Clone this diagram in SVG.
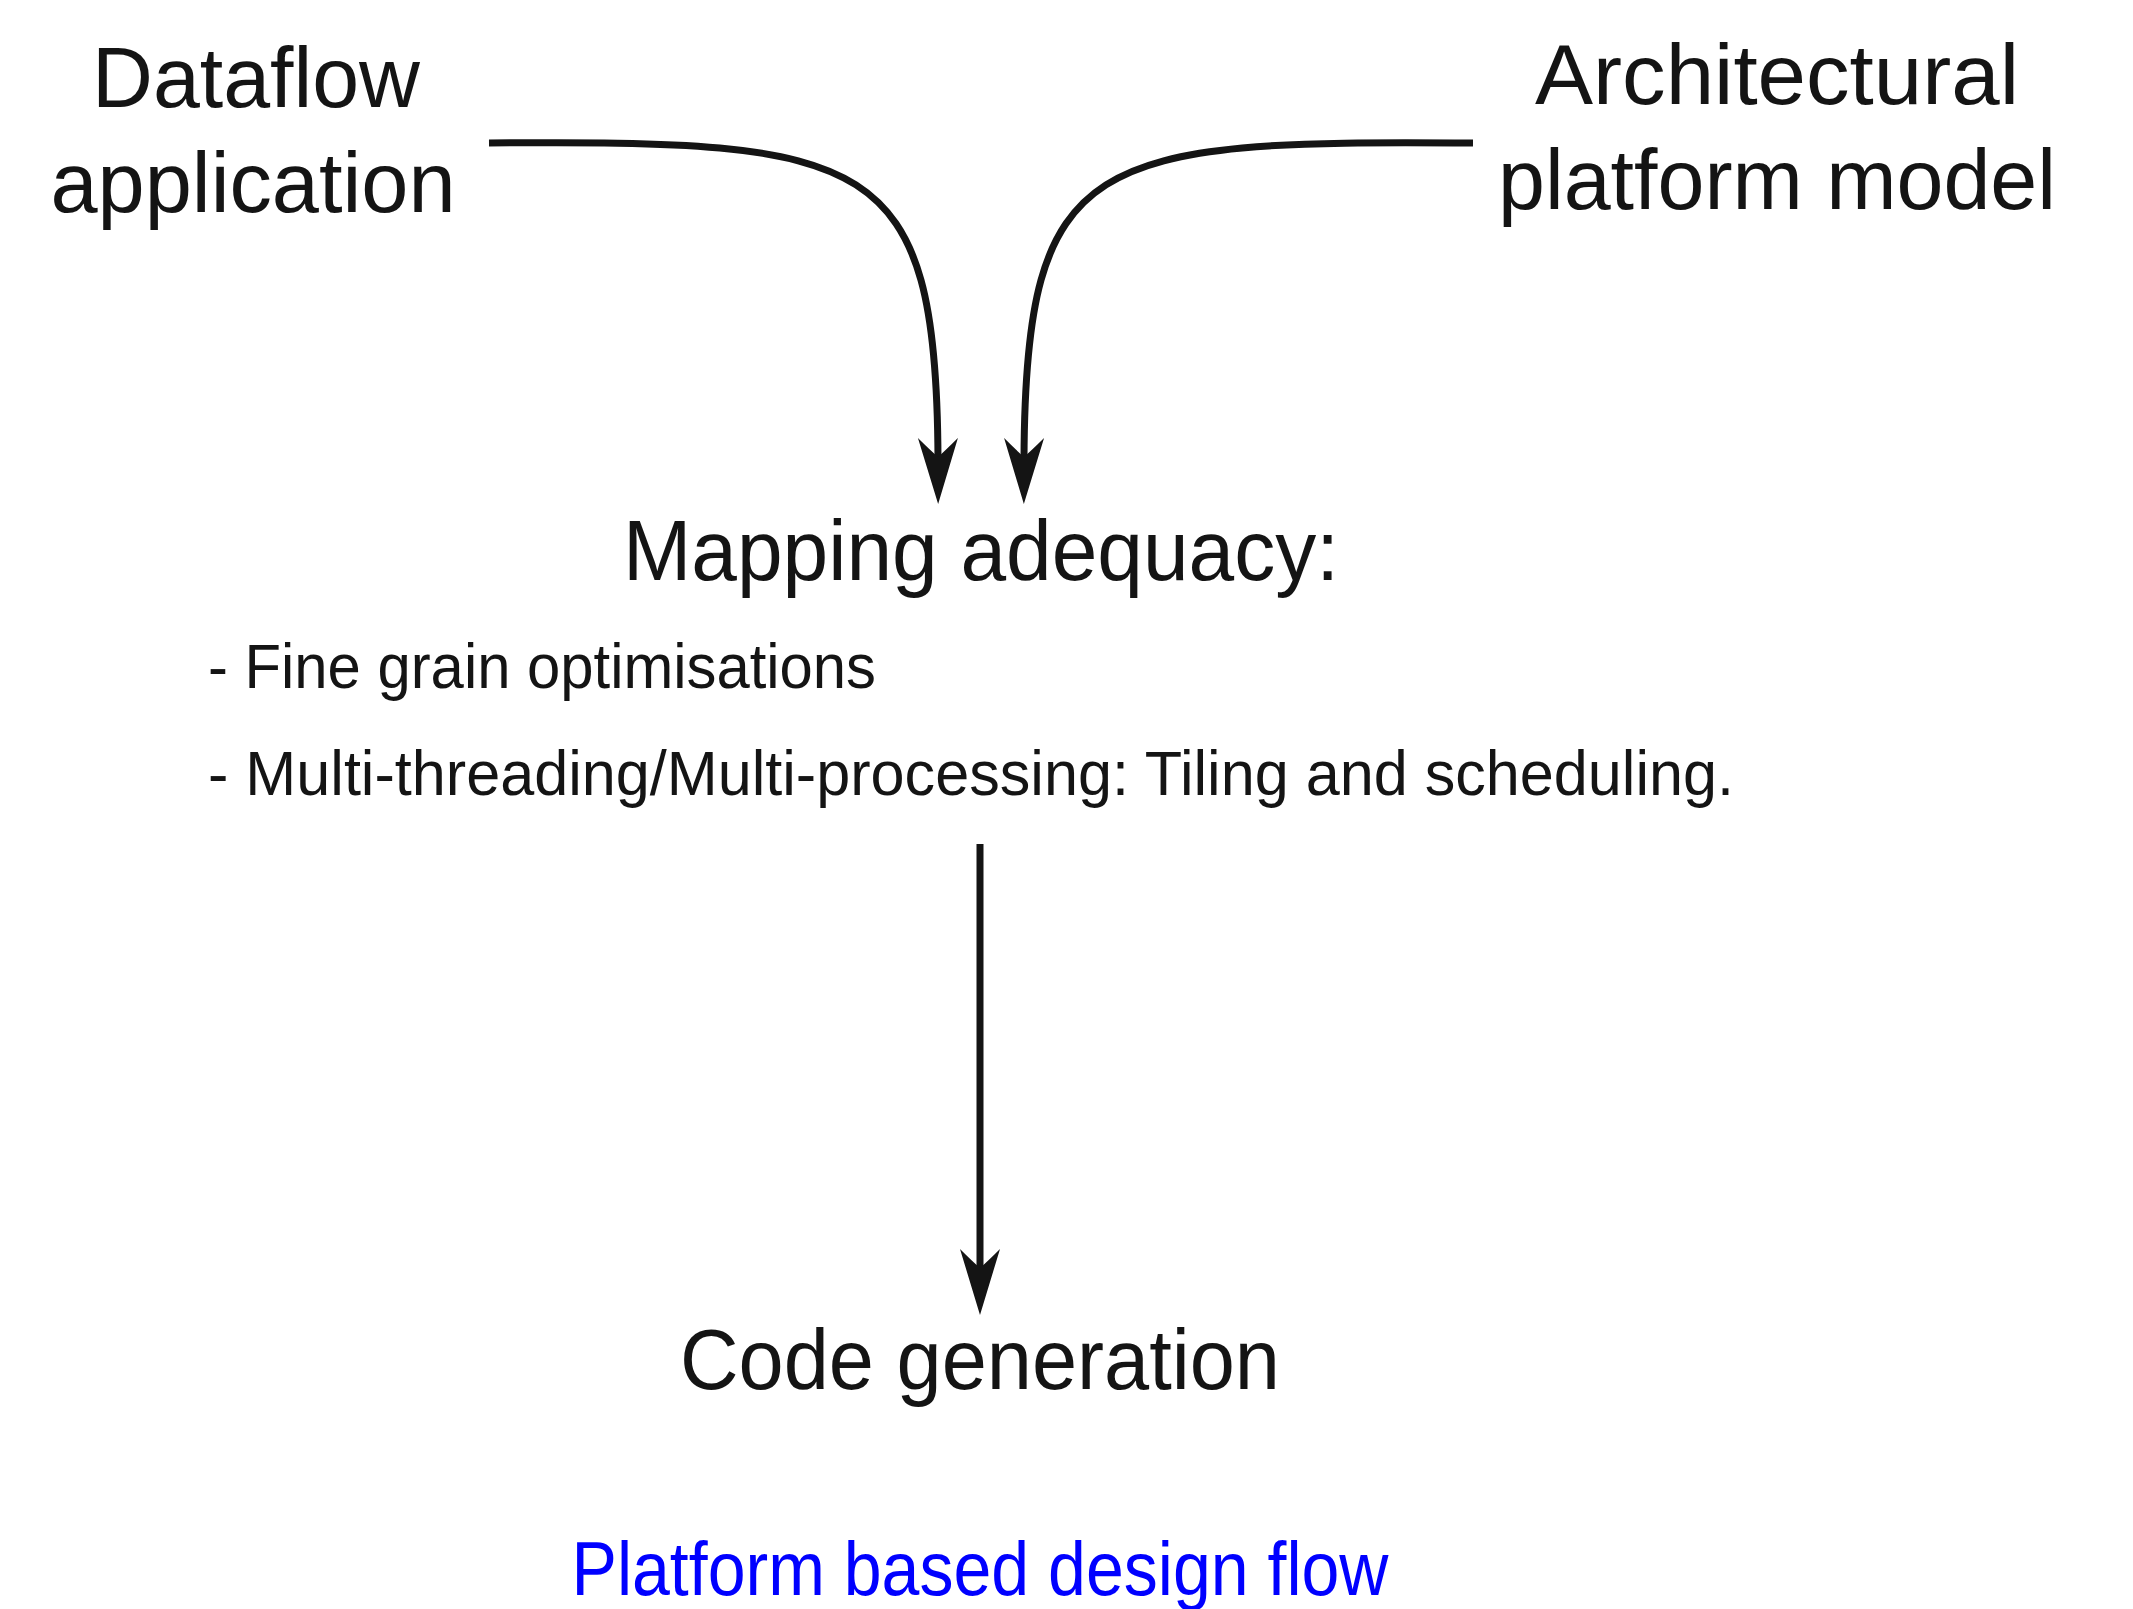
<svg xmlns="http://www.w3.org/2000/svg" width="2133" height="1609" viewBox="0 0 2133 1609">
  <style>
    .lbl { font-family: "Liberation Sans", Arial, sans-serif; fill: #141414; }
    .big { font-size: 86px; }
    .item { font-size: 63px; }
    .caption { font-family: "Liberation Sans", Arial, sans-serif; font-size: 76px; fill: #0000ff; }
    .edge { fill: none; stroke: #141414; stroke-width: 7; marker-end: url(#head); }
  </style>
  <defs>
    <!-- stealth-style arrowhead, tip 44px beyond the line end -->
    <marker id="head" markerUnits="userSpaceOnUse" viewBox="0 -22 70 44" markerWidth="70" markerHeight="44" refX="22" refY="0" orient="auto">
      <path d="M66,0 L0,-20 Q12,-8 19,0 Q12,8 0,20 Z" fill="#141414"/>
    </marker>
  </defs>

  <rect width="2133" height="1609" fill="#ffffff"/>

  <g id="connectors">
    <path id="e-dataflow-mapping" class="edge" d="M489,143 C870,140 937,152 938,460"/>
    <path id="e-platform-mapping" class="edge" d="M1473,143 C1092,140 1025,152 1024,460"/>
    <path id="e-mapping-codegen" class="edge" d="M980,844 L980,1271"/>
  </g>

  <g id="dataflow">
    <text class="lbl big" x="256" y="107" text-anchor="middle" textLength="328" lengthAdjust="spacingAndGlyphs">Dataflow</text>
    <text class="lbl big" x="253" y="212" text-anchor="middle" textLength="405" lengthAdjust="spacingAndGlyphs">application</text>
  </g>

  <g id="platform">
    <text class="lbl big" x="1777" y="104" text-anchor="middle" textLength="484" lengthAdjust="spacingAndGlyphs">Architectural</text>
    <text class="lbl big" x="1777" y="209" text-anchor="middle" textLength="558" lengthAdjust="spacingAndGlyphs">platform model</text>
  </g>

  <g id="mapping">
    <text class="lbl big" x="981" y="580" text-anchor="middle" textLength="716" lengthAdjust="spacingAndGlyphs">Mapping adequacy:</text>
    <text class="lbl item" x="208" y="688" textLength="668" lengthAdjust="spacingAndGlyphs">- Fine grain optimisations</text>
    <text class="lbl item" x="208" y="795" textLength="1526" lengthAdjust="spacingAndGlyphs">- Multi-threading/Multi-processing: Tiling and scheduling.</text>
  </g>

  <g id="codegen">
    <text class="lbl big" x="980" y="1389" text-anchor="middle" textLength="600" lengthAdjust="spacingAndGlyphs">Code generation</text>
  </g>

  <g id="title">
    <text class="caption" x="980" y="1595" text-anchor="middle" textLength="817" lengthAdjust="spacingAndGlyphs">Platform based design flow</text>
  </g>
</svg>
